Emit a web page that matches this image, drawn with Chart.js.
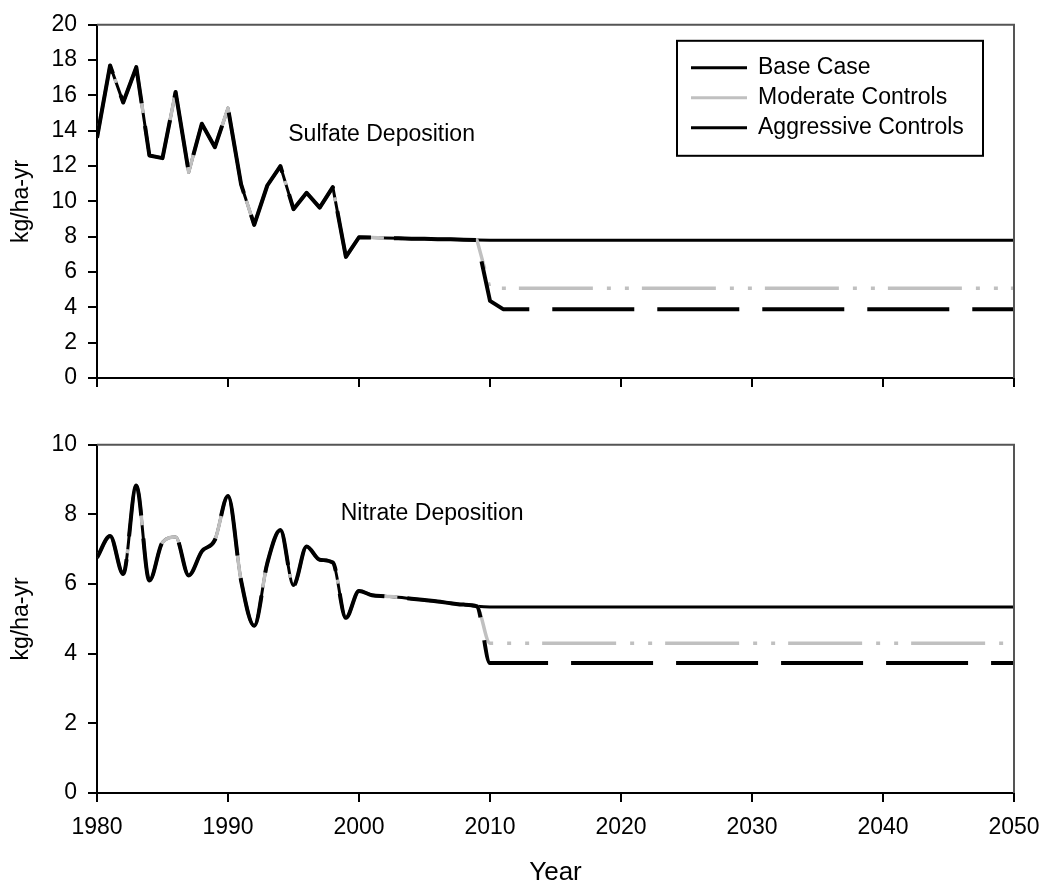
<!DOCTYPE html>
<html>
<head>
<meta charset="utf-8">
<script src="https://cdn.jsdelivr.net/npm/chart.js@4.4.0/dist/chart.umd.min.js"></script>
<style>
body { margin: 0; background: #fff; }
#wrap { position: relative; width: 1045px; height: 888px; }
.panel { position: absolute; left: 0; width: 1045px; }
</style>
</head>
<body>
<div id="wrap">
  <div class="panel" style="top:0;height:420px"><canvas id="sulfateChart"></canvas></div>
  <div class="panel" style="top:420px;height:468px"><canvas id="nitrateChart"></canvas></div>
</div>
<script>
// years with observed values (shared by all three scenarios)
var histYears = [1980, 1981, 1982, 1983, 1984, 1985, 1986, 1987, 1988, 1989,
                 1990, 1991, 1992, 1993, 1994, 1995, 1996, 1997, 1998, 1999,
                 2000, 2001, 2002, 2003, 2004, 2005, 2006, 2007, 2008, 2009];
// projection years
var projYears = [2010, 2011, 2020, 2030, 2040, 2050];
var xTicks = [1980, 1990, 2000, 2010, 2020, 2030, 2040, 2050];
var seriesNames = ['Base Case', 'Moderate Controls', 'Aggressive Controls'];

var sulfateHist = [13.6, 17.7, 15.6, 17.6, 12.6, 12.45, 16.2, 11.65, 14.4, 13.07,
                   15.28, 10.96, 8.67, 10.9, 12.0, 9.56, 10.49, 9.65, 10.81, 6.86,
                   7.97, 7.95, 7.93, 7.91, 7.89, 7.88, 7.86, 7.85, 7.83, 7.82];
var sulfateBase = [7.8, 7.8, 7.8, 7.8, 7.8, 7.8];
var sulfateModerate = [5.08, 5.08, 5.08, 5.08, 5.08, 5.08];
var sulfateAggressive = [4.37, 3.9, 3.9, 3.9, 3.9, 3.9];

var nitrateHist = [6.76, 7.38, 6.29, 8.83, 6.1, 7.2, 7.35, 6.25, 6.94, 7.27,
                   8.53, 6.1, 4.8, 6.6, 7.55, 5.96, 7.08, 6.7, 6.62, 5.03,
                   5.8, 5.68, 5.65, 5.62, 5.58, 5.54, 5.5, 5.45, 5.41, 5.36];
var nitrateBase = [5.34, 5.34, 5.34, 5.34, 5.34, 5.34];
var nitrateModerate = [4.3, 4.3, 4.3, 4.3, 4.3, 4.3];
var nitrateAggressive = [3.73, 3.73, 3.73, 3.73, 3.73, 3.73];

var FUENTE = '"Liberation Sans", Arial, sans-serif';
var GRIS = '#c0c0c0';

function puntos(hist, proj) {
    var p = histYears.map(function(x, i) { return {x: x, y: hist[i]}; });
    return p.concat(projYears.map(function(x, i) { return {x: x, y: proj[i]}; }));
}

// top and right border of the plot box
var marco = {
    id: 'marco',
    afterDraw: function(chart) {
        var a = chart.chartArea, ctx = chart.ctx;
        ctx.save();
        ctx.strokeStyle = '#555';
        ctx.lineWidth = 2;
        ctx.beginPath();
        ctx.moveTo(a.left, a.top);
        ctx.lineTo(a.right, a.top);
        ctx.lineTo(a.right, a.bottom);
        ctx.stroke();
        ctx.restore();
    }
};

// panel label, placed in data coordinates
var rotulo = {
    id: 'rotulo',
    afterDraw: function(chart, args, opts) {
        var ctx = chart.ctx;
        ctx.save();
        ctx.font = '23px ' + FUENTE;
        ctx.fillStyle = '#000';
        ctx.textAlign = 'left';
        ctx.textBaseline = 'middle';
        ctx.fillText(opts.text, chart.scales.x.getPixelForValue(opts.x), chart.scales.y.getPixelForValue(opts.y));
        ctx.restore();
    }
};

// boxed legend inside the plot area
var leyenda = {
    id: 'leyenda',
    afterDraw: function(chart, args, opts) {
        if (!opts.show) return;
        var ctx = chart.ctx, a = chart.chartArea;
        var x0 = a.right - 337, y0 = a.top + 16, w = 306, h = 115;
        ctx.save();
        ctx.strokeStyle = '#000';
        ctx.lineWidth = 2;
        ctx.strokeRect(x0, y0, w, h);
        ctx.font = '23px ' + FUENTE;
        ctx.textBaseline = 'middle';
        ctx.textAlign = 'left';
        chart.data.datasets.forEach(function(ds, i) {
            var y = y0 + 27 + i * 30;
            ctx.strokeStyle = ds.borderColor;
            ctx.lineWidth = 3;
            ctx.setLineDash([]);
            ctx.beginPath();
            ctx.moveTo(x0 + 14, y);
            ctx.lineTo(x0 + 70, y);
            ctx.stroke();
            ctx.fillStyle = '#000';
            ctx.fillText(ds.label, x0 + 81, y);
        });
        ctx.restore();
    }
};

function crearGrafico(id, hist, base, moderate, aggressive, cfg) {
    var ejeComun = {
        grid: { drawOnChartArea: false, drawTicks: true, tickLength: 9, color: '#000', lineWidth: 2 },
        border: { color: '#000', width: 2 }
    };
    return new Chart(document.getElementById(id), {
        type: 'line',
        data: {
            datasets: [
                { label: seriesNames[0], data: puntos(hist, base), borderColor: '#000', borderWidth: 3, order: 3 },
                { label: seriesNames[1], data: puntos(hist, moderate), borderColor: GRIS, borderWidth: 3.5,
                  borderDash: [74, 14, 4, 14, 4, 13], order: 2 },
                { label: seriesNames[2], data: puntos(hist, aggressive), borderColor: '#000', borderWidth: 4,
                  borderDash: [82, 23], order: 1 }
            ]
        },
        options: {
            animation: false,
            responsive: true,
            maintainAspectRatio: false,
            elements: {
                point: { radius: 0 },
                line: { tension: cfg.smooth ? 0.4 : 0, cubicInterpolationMode: cfg.smooth ? 'monotone' : 'default',
                        borderCapStyle: 'butt', borderJoinStyle: 'round', fill: false }
            },
            layout: { padding: { left: 4, right: 31, top: cfg.padTop, bottom: 0 } },
            plugins: {
                legend: { display: false },
                tooltip: { enabled: false },
                rotulo: cfg.rotulo,
                leyenda: { show: cfg.legend }
            },
            scales: {
                x: Object.assign({}, ejeComun, {
                    type: 'linear', min: 1980, max: 2050,
                    afterBuildTicks: function(s) { s.ticks = xTicks.map(function(v) { return {value: v}; }); },
                    ticks: { display: cfg.showX, color: '#000', padding: 12, maxRotation: 0,
                             font: { family: FUENTE, size: 23 },
                             callback: function(v) { return String(v); } },
                    title: { display: cfg.showX, text: 'Year', color: '#000', padding: { top: 4, bottom: 0 }, font: { family: FUENTE, size: 26 } },
                    afterFit: function(s) {
                        s.height = cfg.xHeight;
                        s.paddingLeft = 0;
                        s.paddingRight = 0;
                    }
                }),
                y: Object.assign({}, ejeComun, {
                    min: 0, max: cfg.yMax,
                    ticks: { stepSize: 2, color: '#000', padding: 11, font: { family: FUENTE, size: 23 } },
                    title: { display: true, text: 'kg/ha-yr', color: '#000', font: { family: FUENTE, size: 23 } },
                    afterFit: function(s) { s.width = 93; }
                })
            }
        },
        plugins: [marco, rotulo, leyenda]
    });
}

crearGrafico('sulfateChart', sulfateHist, sulfateBase, sulfateModerate, sulfateAggressive, {
    smooth: false, padTop: 20, xHeight: 42, yMax: 20, showX: false, legend: true,
    rotulo: { text: 'Sulfate Deposition', x: 1994.6, y: 13.8 }
});
crearGrafico('nitrateChart', nitrateHist, nitrateBase, nitrateModerate, nitrateAggressive, {
    smooth: true, padTop: 16, xHeight: 95, yMax: 10, showX: true, legend: false,
    rotulo: { text: 'Nitrate Deposition', x: 1998.6, y: 8.03 }
});
</script>
</body>
</html>
